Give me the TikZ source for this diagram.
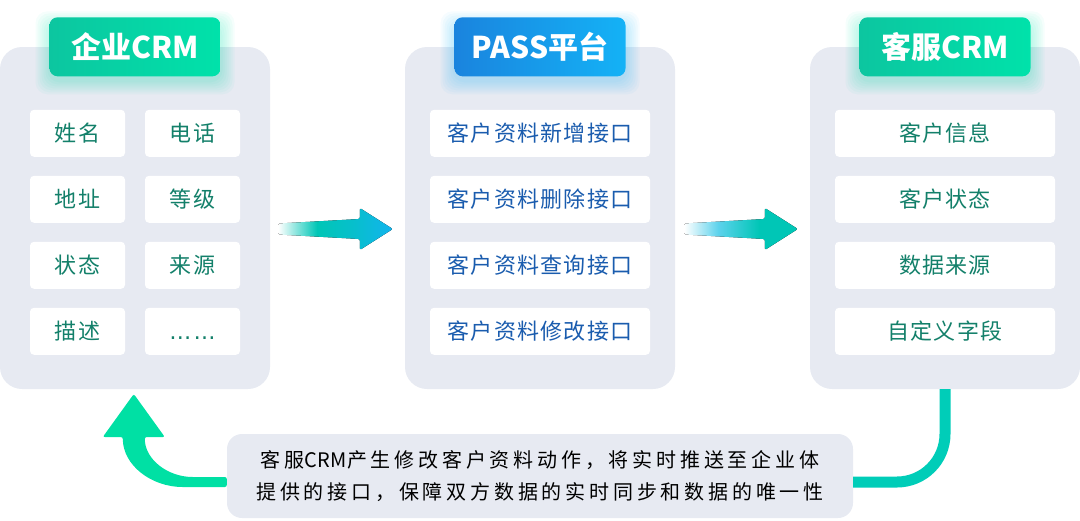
\documentclass[tikz,border=0pt]{standalone}
\usepackage{fontspec}
\setmainfont{Noto Sans CJK SC}
\newfontfamily\dotsfont{DejaVu Sans}
\usetikzlibrary{calc}

\definecolor{panelbg}{HTML}{E7EAF2}
\definecolor{greentxt}{HTML}{13806A}
\definecolor{bluetxt}{HTML}{1A5CAE}
\definecolor{greenA}{HTML}{0CC6A0}
\definecolor{greenB}{HTML}{00E2AA}
\definecolor{blueA}{HTML}{1A84DE}
\definecolor{blueB}{HTML}{14B2F6}
\definecolor{tealarr}{HTML}{00C6B6}
\definecolor{cyanarr}{HTML}{12B4EE}
\definecolor{paleblue}{HTML}{5CD2EC}
\definecolor{loopline}{HTML}{00CDB8}
\definecolor{looparr}{HTML}{00E0A4}

\pgfdeclarehorizontalshading{arrowone}{100bp}{color(0bp)=(white); color(25bp)=(white);
  color(42bp)=(tealarr); color(58bp)=(tealarr!60!cyanarr); color(75bp)=(cyanarr); color(100bp)=(cyanarr)}
\pgfdeclarehorizontalshading{arrowtwo}{100bp}{color(0bp)=(white); color(25bp)=(white);
  color(40bp)=(paleblue); color(58bp)=(tealarr); color(75bp)=(tealarr); color(100bp)=(tealarr)}

\begin{document}
\begin{tikzpicture}[x=1pt, y=-1pt,
  panel/.style={fill=panelbg, rounded corners=22pt, minimum width=270pt, minimum height=342pt, inner sep=0pt},
  headbox/.style={rounded corners=8pt, minimum width=171pt, minimum height=59pt, inner sep=0pt,
    text=white, font=\fontsize{30}{34}\selectfont\bfseries},
  item/.style={fill=white, rounded corners=4pt, minimum height=47pt, inner sep=0pt,
    font=\fontsize{22}{26}\selectfont\addfontfeature{LetterSpace=6}},
  smallitem/.style={item, minimum width=95pt, text=greentxt},
  wideitem/.style={item, minimum width=220pt},
  note/.style={fill=panelbg, rounded corners=15pt, minimum width=626pt, minimum height=84pt,
    align=center, font=\fontsize{20}{32}\selectfont\addfontfeature{LetterSpace=19}},
]
\useasboundingbox (0,0) rectangle (1080,520);

% three columns
\node[panel] (crm)  at (135,218) {};
\node[panel] (pass) at (540,218) {};
\node[panel] (svc)  at (945,218) {};

% glow under the headers
\foreach \h/\c in {crm/greenB, pass/blueB, svc/greenB}
  \foreach \r in {2,4,...,14}
    \fill[\c, opacity=0.04, rounded corners=12pt]
      ($(\h.north)+(-85.5-\r,-21.5-\r)$) rectangle ($(\h.north)+(85.5+\r,33.5+\r)$);

\node[headbox, left color=greenA, right color=greenB] (crmh)  at (crm.north)  {企业CRM};
\node[headbox, left color=blueA,  right color=blueB]  (passh) at (pass.north) {PASS平台};
\node[headbox, left color=greenA, right color=greenB] (svch)  at (svc.north)  {客服CRM};

% items
\foreach \a/\b [count=\r] in {姓名/电话, 地址/等级, 状态/来源, 描述/{\vphantom{描}\dotsfont\addfontfeature{LetterSpace=10}……}} {
  \node[smallitem] (crm\r a) at ($(crm.north)+(-57.5,20.5+66*\r)$) {\a};
  \node[smallitem] (crm\r b) at ($(crm.north)+(57.5,20.5+66*\r)$) {\b};
}
\foreach \t [count=\r] in {客户资料新增接口, 客户资料删除接口, 客户资料查询接口, 客户资料修改接口}
  \node[wideitem, text=bluetxt] (pass\r) at ($(pass.north)+(0,20.5+66*\r)$) {\t};
\foreach \t [count=\r] in {客户信息, 客户状态, 数据来源, 自定义字段}
  \node[wideitem, text=greentxt] (svc\r) at ($(svc.north)+(0,20.5+66*\r)$) {\t};

% arrows between columns
\coordinate (a1s) at ($(crm.east)+(8,11)$);
\coordinate (a1e) at ($(pass.west)+(-12,11)$);
\fill[shading=arrowone, rounded corners=1.5pt]
  ($(a1s)+(0,-5.5)$) -- ($(a1e)+(-33,-10)$) -- ($(a1e)+(-33,-21)$) -- (a1e)
  -- ($(a1e)+(-33,21)$) -- ($(a1e)+(-33,10)$) -- ($(a1s)+(0,5.5)$) -- cycle;
\coordinate (a2s) at ($(pass.east)+(9,11)$);
\coordinate (a2e) at ($(svc.west)+(-12,11)$);
\fill[shading=arrowtwo, rounded corners=1.5pt]
  ($(a2s)+(0,-5.5)$) -- ($(a2e)+(-33,-10)$) -- ($(a2e)+(-33,-21)$) -- (a2e)
  -- ($(a2e)+(-33,21)$) -- ($(a2e)+(-33,10)$) -- ($(a2s)+(0,5.5)$) -- cycle;

% feedback loop
\node[note] (note) at (540,476) {客服{\addfontfeature{LetterSpace=2}CRM}产生修改客户资料动作，将实时推送至企业体\\提供的接口，保障双方数据的实时同步和数据的唯一性};
\draw[loopline, line width=11pt, rounded corners=48pt] (svc.south) |- ($(note.east)+(0,6)$);
\begin{scope}[shift={(note.west)}]
  \fill[looparr, rounded corners=2pt]
    (0,11) -- (-42,11) .. controls (-76.2,11) and (-104,-11.4) .. (-104,-39)
    -- (-124,-39) -- (-93,-82) -- (-62,-39) -- (-82,-39)
    .. controls (-82,-17) and (-59.6,1) .. (-32,1) -- (0,1) -- cycle;
\end{scope}
\end{tikzpicture}
\end{document}
